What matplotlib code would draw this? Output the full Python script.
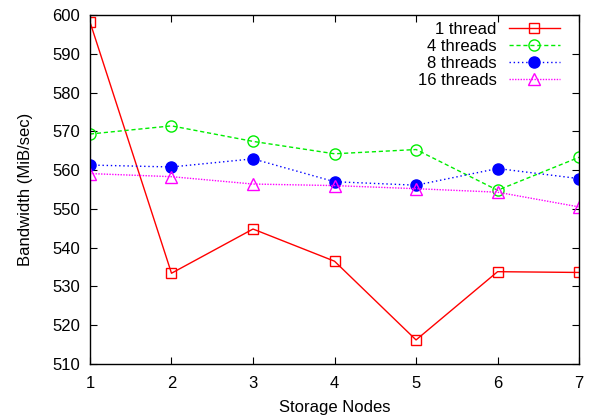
import matplotlib
matplotlib.use("Agg")
import matplotlib.pyplot as plt

plt.rcParams['font.family'] = ['Liberation Sans', 'DejaVu Sans']

nodes = [1, 2, 3, 4, 5, 6, 7]
t1 = [598.2, 533.4, 544.8, 536.5, 516.2, 533.8, 533.6]
t4 = [569.3, 571.4, 567.4, 564.2, 565.3, 554.8, 563.3]
t8 = [561.3, 560.8, 562.9, 557.0, 556.1, 560.4, 557.8]
t16 = [559.1, 558.3, 556.4, 556.0, 555.2, 554.3, 550.5]

labels = ['1 thread', '4 threads', '8 threads', '16 threads']
yticks = list(range(510, 601, 10))

fig = plt.figure(figsize=(5.90, 4.19), dpi=100)
ax = fig.add_axes([0.1525, 0.1313, 0.829, 0.833])

ax.plot(nodes, t1, color='#ff0000', lw=1, ls='-', marker='s', ms=7.5,
        mfc='none', mec='#ff0000', mew=1, label=labels[0])
ax.plot(nodes, t4, color='#00ee00', lw=1, ls=(0, (3, 2)), marker='o', ms=8,
        mfc='none', mec='#00ee00', mew=1, label=labels[1])
ax.plot(nodes, t8, color='#0000ff', lw=1, ls=(0, (1, 2)), marker='o', ms=8,
        mfc='#0000ff', mec='#0000ff', label=labels[2])
ax.plot(nodes, t16, color='#ff00ff', lw=1, ls=(0, (1, 1)), marker='^', ms=8,
        mfc='none', mec='#ff00ff', mew=1, label=labels[3])

ax.set_xlim(1, 7)
ax.set_ylim(510, 600)
ax.set_xticks(nodes)
ax.set_yticks(yticks)
ax.tick_params(direction='in', top=True, right=True, length=5, labelsize=12)
ax.tick_params(axis='x', pad=8.5)
ax.tick_params(axis='y', pad=7)
for s in ax.spines.values():
    s.set_linewidth(1)

ax.set_xlabel('Storage Nodes', fontsize=12, labelpad=6.5)
ax.set_ylabel('Bandwidth (MiB/sec)', fontsize=12, labelpad=14)

ax.legend(loc='upper right', frameon=False, markerfirst=False, fontsize=12,
          handlelength=3.1, handletextpad=0.7, labelspacing=0.12,
          borderaxespad=0.0, bbox_to_anchor=(0.975, 1.0))

fig.savefig('out.png', dpi=100)
